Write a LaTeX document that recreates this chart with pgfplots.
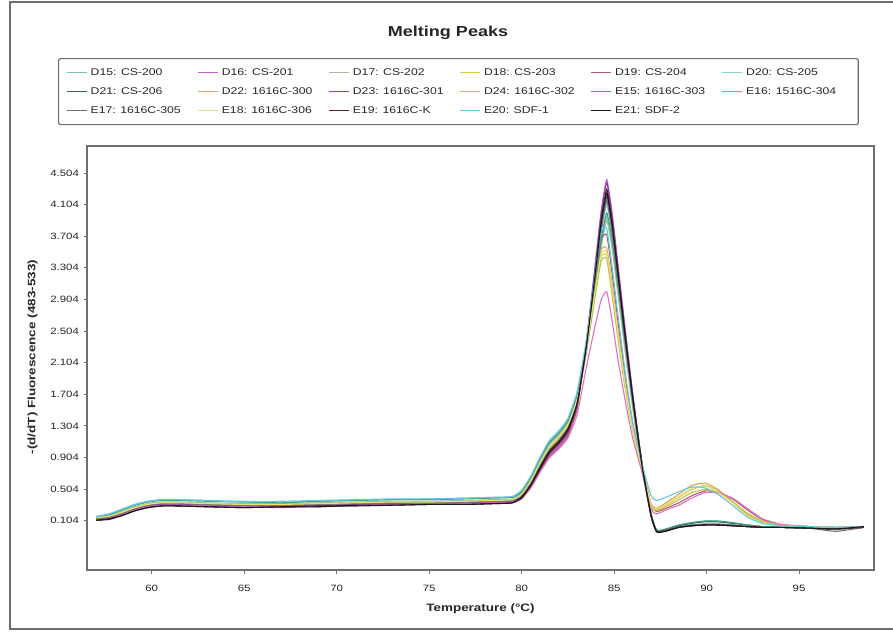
\documentclass[border=0pt]{standalone}
\usepackage{fontspec}
\setmainfont{Liberation Sans}[FakeStretch=1.25]
\usepackage{pgfplots}
\usepackage{pgfplotstable}
\pgfplotsset{compat=1.18}

% -(d/dT) fluorescence (483-533) for every well, one column per sample
\pgfplotstableread{
T    D15  D16  D17  D18  D19  D20  D21  D22  D23  D24  E15  E16  E17  E18  E19  E20  E21
57.0 0.15 0.12 0.14 0.13 0.11 0.16 0.11 0.13 0.12 0.14 0.15 0.12 0.13 0.14 0.11 0.15 0.11
57.7 0.17 0.14 0.16 0.15 0.13 0.19 0.13 0.15 0.14 0.16 0.18 0.13 0.15 0.16 0.13 0.19 0.12
58.4 0.22 0.19 0.21 0.20 0.18 0.25 0.18 0.20 0.19 0.21 0.24 0.18 0.20 0.21 0.17 0.25 0.17
59.1 0.28 0.25 0.27 0.26 0.24 0.31 0.24 0.26 0.25 0.27 0.30 0.24 0.26 0.27 0.23 0.31 0.23
59.8 0.32 0.29 0.31 0.30 0.28 0.35 0.28 0.30 0.29 0.31 0.34 0.28 0.30 0.31 0.27 0.35 0.27
60.5 0.34 0.31 0.33 0.32 0.30 0.37 0.30 0.32 0.31 0.33 0.36 0.30 0.32 0.33 0.29 0.37 0.29
61.5 0.34 0.31 0.33 0.32 0.30 0.37 0.30 0.32 0.31 0.33 0.36 0.30 0.32 0.33 0.29 0.37 0.29
63.0 0.33 0.30 0.32 0.31 0.29 0.36 0.29 0.31 0.30 0.32 0.35 0.29 0.31 0.32 0.28 0.36 0.28
65.0 0.32 0.29 0.31 0.29 0.28 0.35 0.28 0.29 0.29 0.31 0.34 0.28 0.30 0.31 0.27 0.34 0.27
67.0 0.32 0.28 0.31 0.30 0.27 0.34 0.29 0.28 0.30 0.31 0.33 0.29 0.31 0.31 0.28 0.35 0.28
69.0 0.33 0.30 0.33 0.31 0.29 0.35 0.29 0.31 0.29 0.32 0.35 0.28 0.31 0.32 0.29 0.36 0.28
71.0 0.34 0.31 0.33 0.32 0.30 0.36 0.31 0.32 0.31 0.33 0.36 0.30 0.32 0.33 0.29 0.37 0.30
73.0 0.35 0.32 0.34 0.33 0.31 0.37 0.31 0.33 0.32 0.34 0.37 0.31 0.33 0.34 0.30 0.38 0.30
75.0 0.35 0.32 0.34 0.33 0.32 0.38 0.32 0.32 0.33 0.34 0.37 0.31 0.33 0.34 0.31 0.38 0.31
77.0 0.36 0.33 0.35 0.34 0.32 0.39 0.32 0.34 0.33 0.35 0.38 0.32 0.34 0.35 0.31 0.39 0.31
78.5 0.37 0.34 0.36 0.35 0.33 0.40 0.33 0.35 0.34 0.36 0.39 0.33 0.35 0.36 0.32 0.40 0.32
79.5 0.38 0.35 0.37 0.36 0.34 0.41 0.34 0.36 0.35 0.37 0.40 0.34 0.36 0.37 0.33 0.41 0.33
80.0 0.46 0.40 0.45 0.42 0.39 0.48 0.41 0.42 0.40 0.43 0.47 0.38 0.42 0.44 0.39 0.49 0.40
80.5 0.64 0.54 0.62 0.58 0.53 0.66 0.57 0.58 0.55 0.60 0.65 0.52 0.58 0.61 0.55 0.67 0.56
81.0 0.88 0.74 0.86 0.80 0.73 0.90 0.79 0.80 0.76 0.82 0.89 0.72 0.80 0.84 0.76 0.91 0.78
81.5 1.08 0.93 1.06 1.00 0.92 1.10 0.99 1.00 0.95 1.02 1.09 0.90 1.00 1.04 0.96 1.12 0.98
82.0 1.20 1.05 1.18 1.12 1.03 1.22 1.11 1.12 1.07 1.14 1.21 1.01 1.12 1.16 1.08 1.24 1.10
82.5 1.36 1.20 1.34 1.28 1.18 1.38 1.27 1.28 1.22 1.30 1.37 1.15 1.28 1.32 1.24 1.40 1.26
83.0 1.68 1.55 1.66 1.62 1.52 1.70 1.60 1.62 1.57 1.62 1.69 1.45 1.60 1.64 1.58 1.74 1.59
83.5 2.26 2.38 2.25 2.26 2.35 2.30 2.30 2.30 2.35 2.24 2.28 2.05 2.28 2.28 2.33 2.40 2.31
84.0 3.06 3.40 3.03 3.02 3.22 3.18 3.23 3.10 3.37 2.98 3.10 2.60 3.20 3.06 3.31 3.30 3.27
84.3 3.61 4.02 3.56 3.44 3.66 3.74 3.82 3.53 3.99 3.39 3.66 2.90 3.78 3.48 3.91 3.78 3.87
84.6 3.95 4.42 3.90 3.46 3.72 4.10 4.20 3.55 4.38 3.42 4.00 3.00 4.15 3.50 4.30 3.80 4.25
84.9 3.58 3.98 3.53 2.98 3.22 3.72 3.80 3.08 3.94 2.94 3.64 2.62 3.74 3.03 3.87 3.30 3.83
85.2 3.02 3.36 2.98 2.46 2.64 3.15 3.22 2.53 3.33 2.42 3.09 2.15 3.15 2.49 3.27 2.72 3.23
85.6 2.27 2.52 2.24 1.80 1.92 2.38 2.42 1.85 2.50 1.77 2.34 1.62 2.37 1.82 2.45 1.98 2.42
86.0 1.56 1.72 1.54 1.25 1.33 1.64 1.68 1.28 1.71 1.24 1.62 1.15 1.62 1.26 1.68 1.36 1.66
86.5 0.77 0.84 0.76 0.76 0.82 0.82 0.84 0.78 0.83 0.75 0.82 0.72 0.79 0.77 0.82 0.82 0.81
87.0 0.16 0.18 0.16 0.29 0.30 0.18 0.19 0.32 0.17 0.28 0.19 0.25 0.16 0.30 0.17 0.42 0.16
87.3 -0.03 -0.02 -0.02 0.24 0.22 -0.01 -0.02 0.26 -0.03 0.23 -0.02 0.19 -0.03 0.25 -0.03 0.36 -0.04
87.8 -0.02 -0.02 -0.01 0.30 0.26 0.00 -0.01 0.33 -0.02 0.28 0.00 0.24 -0.02 0.31 -0.02 0.40 -0.03
88.5 0.03 0.02 0.03 0.40 0.33 0.05 0.04 0.44 0.02 0.37 0.05 0.30 0.03 0.41 0.02 0.47 0.02
89.2 0.05 0.04 0.05 0.50 0.42 0.08 0.07 0.55 0.04 0.46 0.08 0.39 0.05 0.51 0.04 0.53 0.04
89.9 0.06 0.05 0.06 0.55 0.48 0.10 0.09 0.58 0.05 0.50 0.10 0.46 0.06 0.54 0.05 0.52 0.05
90.6 0.06 0.05 0.06 0.49 0.47 0.10 0.09 0.50 0.05 0.46 0.10 0.46 0.06 0.47 0.05 0.44 0.05
91.4 0.05 0.04 0.05 0.35 0.38 0.08 0.07 0.34 0.04 0.34 0.08 0.39 0.05 0.33 0.04 0.30 0.04
92.2 0.03 0.03 0.03 0.19 0.24 0.05 0.05 0.18 0.03 0.20 0.05 0.26 0.03 0.17 0.03 0.15 0.03
93.0 0.02 0.02 0.02 0.09 0.12 0.03 0.03 0.08 0.02 0.10 0.03 0.13 0.02 0.08 0.02 0.07 0.02
94.0 0.02 0.02 0.02 0.05 0.05 0.02 0.02 0.04 0.02 0.05 0.02 0.06 0.02 0.04 0.02 0.04 0.02
95.5 0.01 0.01 0.01 0.03 0.03 0.01 0.01 0.03 0.01 0.03 0.01 0.03 0.01 0.03 0.01 0.03 0.01
97.0 0.00 0.00 0.00 0.02 0.02 0.00 0.00 0.02 0.00 0.02 0.00 0.02 -0.03 0.02 0.00 0.02 0.00
98.5 0.02 0.02 0.02 0.03 0.03 0.02 0.02 0.03 0.02 0.03 0.02 0.03 0.02 0.03 0.02 0.03 0.03
}\melt

% sample colours
\definecolor{cD15}{HTML}{7FBFB0}
\definecolor{cD16}{HTML}{C25FC8}
\definecolor{cD17}{HTML}{A8B8A0}
\definecolor{cD18}{HTML}{D8D04A}
\definecolor{cD19}{HTML}{B05A6E}
\definecolor{cD20}{HTML}{7FD8D0}
\definecolor{cD21}{HTML}{2E6E5E}
\definecolor{cD22}{HTML}{E0A060}
\definecolor{cD23}{HTML}{9040B0}
\definecolor{cD24}{HTML}{BFBF50}
\definecolor{cE15}{HTML}{3FA080}
\definecolor{cE16}{HTML}{E070C0}
\definecolor{cE17}{HTML}{707070}
\definecolor{cE18}{HTML}{E8E070}
\definecolor{cE19}{HTML}{5A1E3A}
\definecolor{cE20}{HTML}{60C8E0}
\definecolor{cE21}{HTML}{1A1A1A}
\definecolor{framegray}{HTML}{6E6E6E}

\newcommand{\entry}[1]{\makebox[103bp][l]{#1}}

\begin{document}
\begin{tikzpicture}[x=1bp,y=1bp]
\useasboundingbox (0,0) rectangle (893,-635);
\fill[white] (0,0) rectangle (893,-635);
% outer panel frame (open on the right)
\draw[framegray, line width=1.6bp] (900,-2) -- (10,-2) -- (10,-629) -- (900,-629);
\node[font=\bfseries\fontsize{14.5}{16}\selectfont, text=black!85] at (448,-33) {Melting Peaks};

\begin{axis}[
  at={(87bp,-146bp)}, anchor=north west,
  scale only axis, width=787bp, height=424bp,
  xmin=56.5, xmax=99.05, ymin=-0.52, ymax=4.845,
  xtick={60,65,...,95},
  ytick={0.104,0.504,0.904,1.304,1.704,2.104,2.504,2.904,3.304,3.704,4.104,4.504},
  yticklabel style={/pgf/number format/fixed, /pgf/number format/fixed zerofill, /pgf/number format/precision=3, xshift=-1bp},
  /pgf/number format/assume math mode=true,
  tick pos=left, tick align=outside, major tick length=3.5bp,
  minor tick num=0,
  tick style={framegray, line width=0.8bp},
  ticklabel style={font=\fontsize{9.2}{10}\selectfont, text=black!85},
  xticklabel style={yshift=-8bp},
  axis line style={framegray, line width=1.4bp},
  xlabel={Temperature (°C)},
  ylabel={-(d/dT) Fluorescence (483-533)},
  label style={font=\bfseries\fontsize{10.8}{12}\selectfont, text=black!85},
  xlabel style={at={(axis description cs:0.5,-0.092)}, anchor=center},
  ylabel style={at={(axis description cs:-0.069,0.502)}, anchor=center},
  every axis plot/.append style={line width=1.1bp, smooth, tension=0.3},
  legend columns=6,
  legend image code/.code={\draw[#1, line width=1.1bp] (0bp,0bp) -- (20bp,0bp);},
  legend style={
    at={(axis description cs:-0.0368,1.2075)}, anchor=north west,
    draw=framegray, line width=1.2bp, rounded corners=2bp,
    font=\fontsize{9.8}{11}\selectfont, text=black!85,
    inner xsep=7.5bp, inner ysep=8bp,
    column sep=2bp, row sep=7bp,
    nodes={inner sep=1.5bp, text height=7bp, text depth=2bp},
  },
]
\addplot[cD15] table[x=T,y=D15]{\melt}; \addlegendentry{\entry{D15: CS-200}}
\addplot[cD16] table[x=T,y=D16]{\melt}; \addlegendentry{\entry{D16: CS-201}}
\addplot[cD17] table[x=T,y=D17]{\melt}; \addlegendentry{\entry{D17: CS-202}}
\addplot[cD18] table[x=T,y=D18]{\melt}; \addlegendentry{\entry{D18: CS-203}}
\addplot[cD19] table[x=T,y=D19]{\melt}; \addlegendentry{\entry{D19: CS-204}}
\addplot[cD20] table[x=T,y=D20]{\melt}; \addlegendentry{\entry{D20: CS-205}}
\addplot[cD21] table[x=T,y=D21]{\melt}; \addlegendentry{\entry{D21: CS-206}}
\addplot[cD22] table[x=T,y=D22]{\melt}; \addlegendentry{\entry{D22: 1616C-300}}
\addplot[cD23] table[x=T,y=D23]{\melt}; \addlegendentry{\entry{D23: 1616C-301}}
\addplot[cD24] table[x=T,y=D24]{\melt}; \addlegendentry{\entry{D24: 1616C-302}}
\addplot[cE15] table[x=T,y=E15]{\melt}; \addlegendentry{\entry{E15: 1616C-303}}
\addplot[cE16] table[x=T,y=E16]{\melt}; \addlegendentry{\entry{E16: 1516C-304}}
\addplot[cE17] table[x=T,y=E17]{\melt}; \addlegendentry{\entry{E17: 1616C-305}}
\addplot[cE18] table[x=T,y=E18]{\melt}; \addlegendentry{\entry{E18: 1616C-306}}
\addplot[cE19] table[x=T,y=E19]{\melt}; \addlegendentry{\entry{E19: 1616C-K}}
\addplot[cE20] table[x=T,y=E20]{\melt}; \addlegendentry{\entry{E20: SDF-1}}
\addplot[cE21] table[x=T,y=E21]{\melt}; \addlegendentry{\entry{E21: SDF-2}}
\end{axis}
\end{tikzpicture}
\end{document}
